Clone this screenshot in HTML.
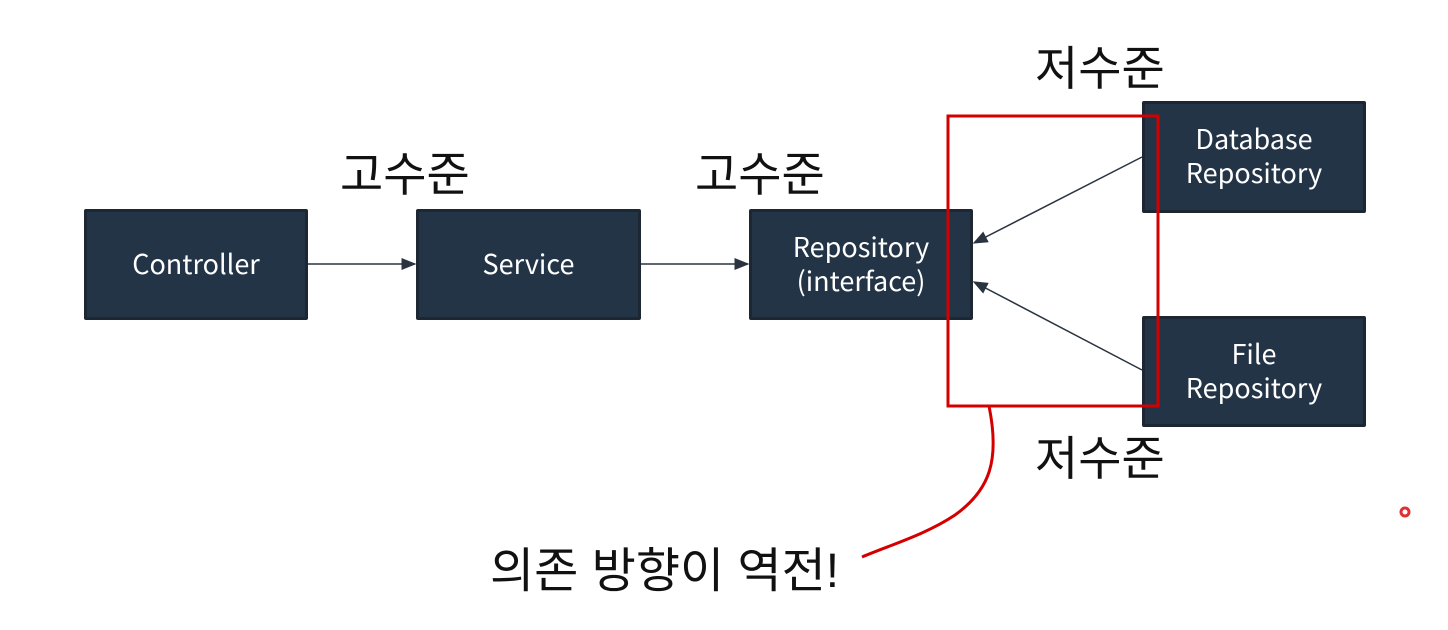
<!DOCTYPE html>
<html><head><meta charset="utf-8"><style>
body{margin:0;width:1448px;height:630px;background:#fff;position:relative;overflow:hidden;font-family:"Liberation Sans","Noto Sans CJK KR",sans-serif}
.b{position:absolute;background:#243447;border:3px solid #1c2733;box-sizing:border-box;border-radius:2px;color:#fff;font-family:"Noto Sans CJK KR",sans-serif;font-size:27px;display:flex;align-items:center;justify-content:center;text-align:center;line-height:34px;padding-bottom:4px}
.k{position:absolute;font-size:47px;color:#111;white-space:nowrap;line-height:1}
</style></head><body>
<div class="b" style="left:84px;top:209px;width:224px;height:111px">Controller</div>
<div class="b" style="left:416px;top:209px;width:225px;height:111px">Service</div>
<div class="b" style="left:749px;top:209px;width:224px;height:111px">Repository<br>(interface)</div>
<div class="b" style="left:1142px;top:101px;width:224px;height:112px">Database<br>Repository</div>
<div class="b" style="left:1142px;top:316px;width:224px;height:111px">File<br>Repository</div>
<div class="k" style="left:340px;top:151px">고수준</div>
<div class="k" style="left:695px;top:151px">고수준</div>
<div class="k" style="left:1035px;top:45px">저수준</div>
<div class="k" style="left:1035px;top:435px">저수준</div>
<div class="k" style="left:490px;top:548px;font-size:48px">의존 방향이 역전!</div>
<svg width="1448" height="630" style="position:absolute;left:0;top:0">
<defs><marker id="a" markerWidth="10" markerHeight="8" refX="9" refY="4" orient="auto"><path d="M0,0L10,4L0,8z" fill="#2a3440"/></marker></defs>
<g stroke="#2a3440" stroke-width="1.5" marker-end="url(#a)">
<line x1="308" y1="264" x2="415" y2="264"/>
<line x1="641" y1="264" x2="748" y2="264"/>
<line x1="1142" y1="157" x2="974" y2="243"/>
<line x1="1142" y1="370" x2="974" y2="282"/>
</g>
<rect x="948" y="116" width="210" height="290" fill="none" stroke="#d40000" stroke-width="3"/>
<path d="M989,406 C1000,460 990,490 955,515 C925,535 890,545 862,557" fill="none" stroke="#d40000" stroke-width="3"/>
<circle cx="1405" cy="512" r="4" fill="none" stroke="#e03030" stroke-width="3"/>
</svg>
</body></html>
